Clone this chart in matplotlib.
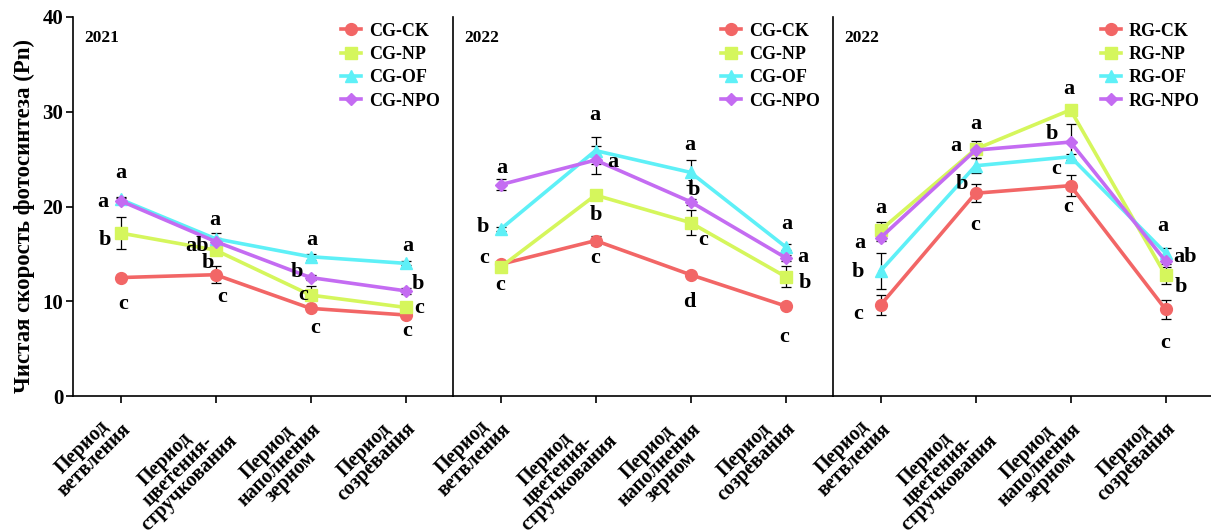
import matplotlib.pyplot as plt
from matplotlib.transforms import ScaledTranslation, blended_transform_factory

plt.rcParams['font.family'] = ['Liberation Serif', 'DejaVu Serif']
plt.rcParams['font.weight'] = 'bold'

# growth stages on the x axis
stages = ["Период\nветвления", "Период\nцветения-\nстручкования",
          "Период\nнаполнения\nзерном", "Период\nсозревания"]
treatments = ["CK", "NP", "OF", "NPO"]
colors = ["#F26666", "#D5F65C", "#5EF0F7", "#C46CF2"]
markers = ["o", "s", "^", "D"]
msizes = [8.5, 8, 8.5, 6.5]

# CG 2021 (Pn means and errors)
cg21_ck = [12.5, 12.8, 9.25, 8.55]
cg21_np = [17.2, 15.4, 10.65, 9.35]
cg21_of = [20.75, 16.6, 14.7, 14.0]
cg21_npo = [20.6, 16.3, 12.5, 11.1]
cg21_err = [[0.3, 0.9, 0.3, 0.3], [1.7, 0.5, 1.0, 0.5],
            [0.3, 0.6, 0.3, 0.2], [0.3, 0.4, 0.3, 0.3]]

# CG 2022
cg22_ck = [13.9, 16.4, 12.8, 9.5]
cg22_np = [13.6, 21.2, 18.3, 12.6]
cg22_of = [17.6, 25.9, 23.6, 15.75]
cg22_npo = [22.3, 24.9, 20.5, 14.6]
cg22_err = [[0.3, 0.5, 0.3, 0.3], [0.3, 0.4, 1.3, 1.1],
            [0.2, 1.4, 1.3, 0.3], [0.6, 1.5, 0.3, 0.3]]

# RG 2022
rg22_ck = [9.6, 21.4, 22.2, 9.15]
rg22_np = [17.5, 26.05, 30.2, 12.75]
rg22_of = [13.2, 24.3, 25.25, 15.1]
rg22_npo = [16.7, 25.95, 26.8, 14.25]
rg22_err = [[1.1, 0.95, 1.1, 1.0], [0.9, 0.9, 0.3, 0.9],
            [1.9, 0.8, 0.3, 0.5], [0.3, 0.3, 1.9, 0.3]]

# significance letters: letter, x, y
cg21_letters = [("a", 0, 23.55), ("a", -0.19, 20.5), ("b", -0.16, 16.45), ("c", 0.03, 9.7),
                ("a", 0.99, 18.55), ("ab", 0.8, 15.8), ("b", 0.92, 14.0), ("c", 1.07, 10.5),
                ("a", 2.01, 16.45), ("b", 1.86, 13.1), ("c", 1.92, 10.65), ("c", 2.05, 7.2),
                ("a", 3.02, 15.8), ("b", 3.13, 11.8), ("c", 3.14, 9.3), ("c", 3.02, 6.85)]
cg22_letters = [("a", 0.01, 24.1), ("b", -0.19, 17.85), ("c", -0.17, 14.6), ("c", 0, 11.7),
                ("a", 0.99, 29.65), ("a", 1.18, 24.65), ("b", 1.0, 19.1), ("c", 1.0, 14.6),
                ("a", 1.99, 26.5), ("b", 2.04, 21.75), ("c", 2.13, 16.45), ("d", 1.99, 9.95),
                ("a", 3.01, 18.15), ("a", 3.18, 14.7), ("b", 3.2, 11.95), ("c", 2.99, 6.25)]
rg22_letters = [("a", 0, 19.8), ("a", -0.22, 16.15), ("b", -0.24, 13.1), ("c", -0.23, 8.7),
                ("a", 1.0, 28.7), ("a", 0.79, 26.4), ("b", 0.86, 22.35), ("c", 1.0, 18.05),
                ("a", 1.98, 32.35), ("b", 1.8, 27.7), ("c", 1.85, 24.0), ("c", 1.98, 19.95),
                ("a", 2.97, 17.95), ("ab", 3.21, 14.7), ("b", 3.16, 11.55), ("c", 3.0, 5.6)]

panels = [
    ("2021", "CG", [cg21_ck, cg21_np, cg21_of, cg21_npo], cg21_err, cg21_letters),
    ("2022", "CG", [cg22_ck, cg22_np, cg22_of, cg22_npo], cg22_err, cg22_letters),
    ("2022", "RG", [rg22_ck, rg22_np, rg22_of, rg22_npo], rg22_err, rg22_letters),
]

fig = plt.figure(figsize=(12.11, 5.30), dpi=100)
left, bottom, w, h = 73 / 1211, 1 - 396 / 530, 380 / 1211, 379 / 530

x = range(len(stages))
for i, (year, site, series, errs, letters) in enumerate(panels):
    ax = fig.add_axes([left + i * w, bottom, w, h])
    for k in range(4):
        ax.errorbar(x, series[k], yerr=errs[k], fmt="none", ecolor="black",
                    elinewidth=0.9, capsize=3.5, capthick=0.9, zorder=2)
        ax.plot(x, series[k], color=colors[k], marker=markers[k], markersize=msizes[k],
                lw=2.6, label=f"{site}-{treatments[k]}", zorder=3)
    for txt, lx, ly in letters:
        ax.text(lx, ly, txt, fontsize=16, fontweight="bold", ha="center", va="center", zorder=4)

    ax.set_xlim(-0.5, 3.5)
    ax.set_ylim(0, 40)
    ax.set_xticks(list(x))
    ax.set_xticklabels([])
    # slanted stage labels, placed just below and left of each tick
    lab_tr = blended_transform_factory(ax.transData, ax.transAxes) + \
        ScaledTranslation(-0.12, -0.11, fig.dpi_scale_trans)
    for xi, name in zip(x, stages):
        ax.text(xi, 0, name, transform=lab_tr, rotation=45, ha="right", va="top",
                rotation_mode="anchor", multialignment="center", fontsize=14.5,
                fontweight="bold", linespacing=0.8, clip_on=False)

    ax.spines["top"].set_visible(False)
    ax.spines["right"].set_visible(False)
    for s in ["left", "bottom"]:
        ax.spines[s].set_linewidth(1.2)
    ax.tick_params(axis="x", length=5, width=1.2)
    if i == 0:
        ax.set_yticks([0, 10, 20, 30, 40])
        ax.tick_params(axis="y", length=5, width=1.2, labelsize=15, pad=2)
        ax.set_ylabel("Чистая скорость фотосинтеза (Pn)", fontsize=16.5, fontweight="bold")
        ax.yaxis.set_label_coords(-0.10, 0.475)
    else:
        ax.set_yticks([])

    ax.text(0.03, 0.945, year, transform=ax.transAxes, fontsize=12.5, fontweight="bold",
            ha="left", va="center")
    ax.legend(loc="upper left", bbox_to_anchor=(0.705, 0.985), frameon=False,
              prop={"size": 13, "weight": "bold"}, handlelength=1.1, handletextpad=0.45,
              labelspacing=0.35, borderpad=0, borderaxespad=0)

fig.savefig("out.png", dpi=100)
